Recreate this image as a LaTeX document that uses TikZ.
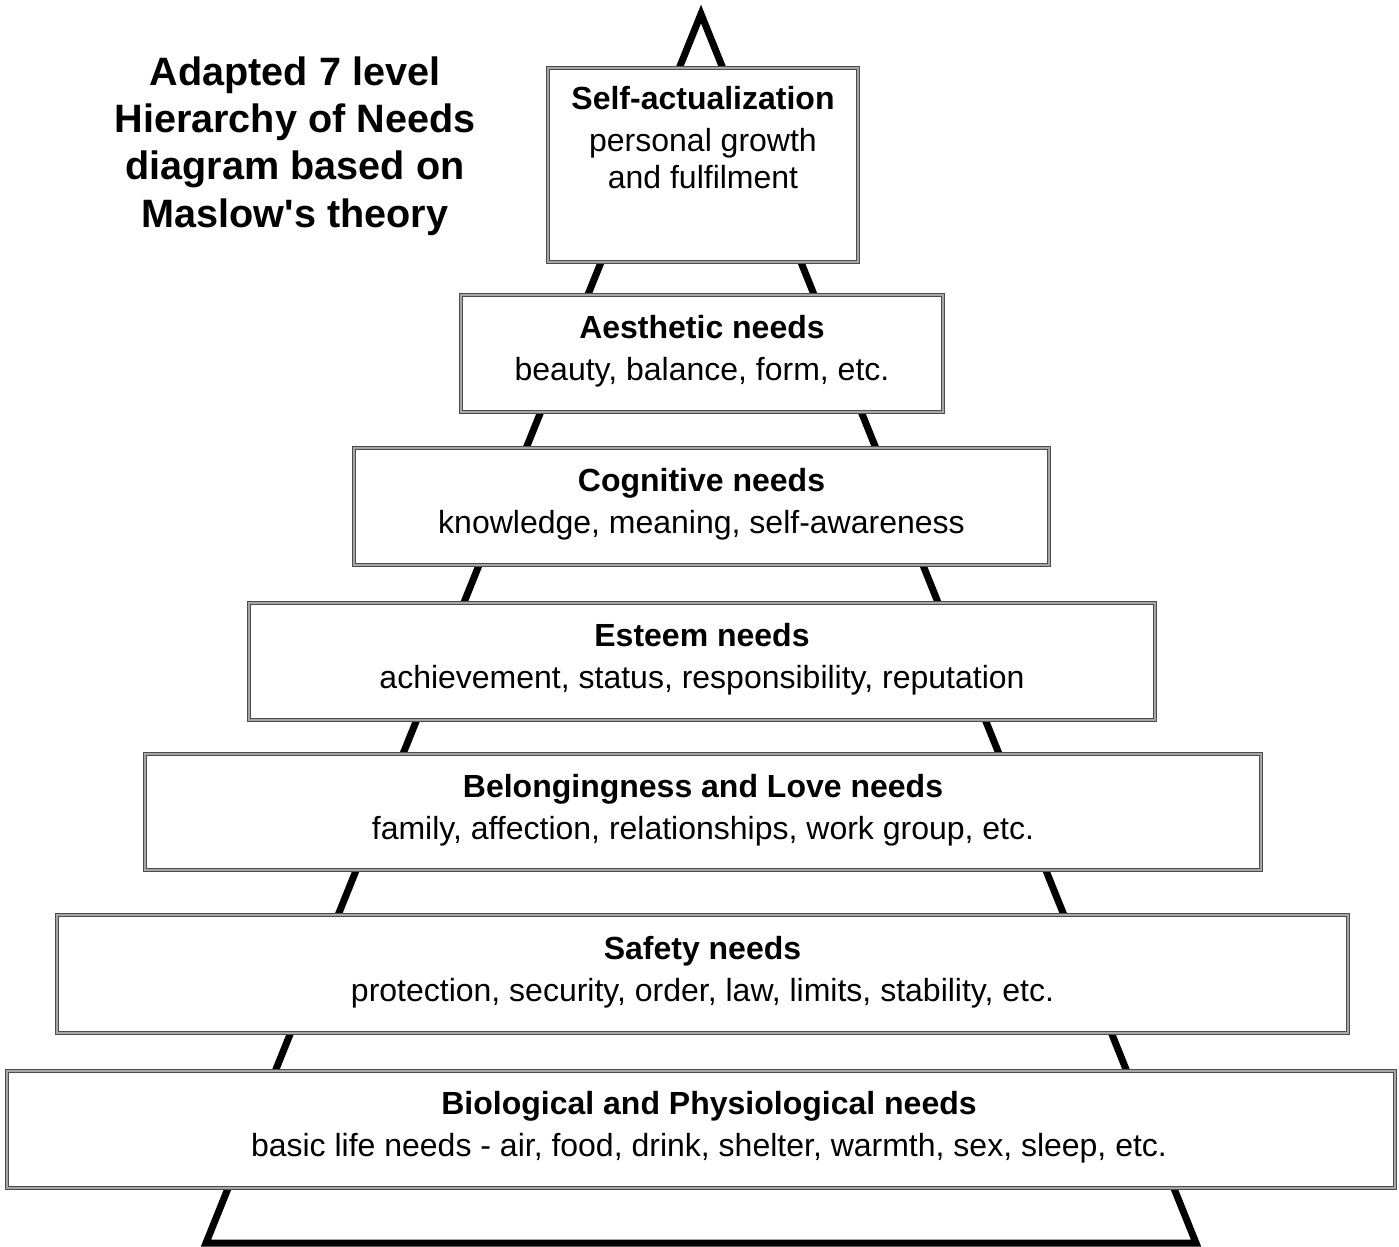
\documentclass[tikz,border=0pt]{standalone}
\usepackage{fontspec}
\setmainfont{Liberation Sans}
\usetikzlibrary{positioning}

\begin{document}
\begin{tikzpicture}[
  x=0.5pt, y=-0.5pt,
  need/.style={draw=black!70, double=black!35, double distance=0.6pt, line width=0.5pt, fill=white, align=center, inner sep=0pt, text depth=5.5pt, font=\fontsize{16}{18.5}\selectfont},
  pyr/.style={line width=3.5pt, line join=miter}
]
  \useasboundingbox (0,0) rectangle (1399,1247);
  \coordinate (apex) at (701,14);
  \coordinate (bl) at (206,1243);
  \coordinate (br) at (1196,1243);
  \draw[pyr] (apex) -- (bl) -- (br) -- cycle;

  \node[font=\fontsize{19.8}{23.7}\selectfont\bfseries, align=center] (title) at (295,146)
    {Adapted 7 level\\Hierarchy of Needs\\diagram based on\\Maslow\textquotesingle s theory};

  \node[need, minimum width=155pt, minimum height=97pt, text depth=27.5pt] (self) at (703,165)
    {\textbf{Self-actualization}\\[2.5pt] personal growth\\and fulfilment};
  \node[need, minimum width=241pt, minimum height=58.5pt] (aes) at (702,353.5)
    {\textbf{Aesthetic needs}\\[2.5pt] beauty, balance, form, etc.};
  \node[need, minimum width=347.5pt, minimum height=58.5pt] (cog) at (701.5,506.5)
    {\textbf{Cognitive needs}\\[2.5pt] knowledge, meaning, self-awareness};
  \node[need, minimum width=453pt, minimum height=58.5pt] (est) at (702,661.5)
    {\textbf{Esteem needs}\\[2.5pt] achievement, status, responsibility, reputation};
  \node[need, minimum width=558pt, minimum height=58pt] (love) at (703,812)
    {\textbf{Belongingness and Love needs}\\[2.5pt] family, affection, relationships, work group, etc.};
  \node[need, minimum width=645.5pt, minimum height=59pt] (safe) at (702.5,974)
    {\textbf{Safety needs}\\[2.5pt] protection, security, order, law, limits, stability, etc.};
  \node[need, minimum width=694pt, minimum height=58.5pt] (bio) at (701,1129.5)
    {\hspace*{8pt}\textbf{Biological and Physiological needs}\\[2.5pt]\hspace*{8pt}basic life needs - air, food, drink, shelter, warmth, sex, sleep, etc.};
\end{tikzpicture}
\end{document}
